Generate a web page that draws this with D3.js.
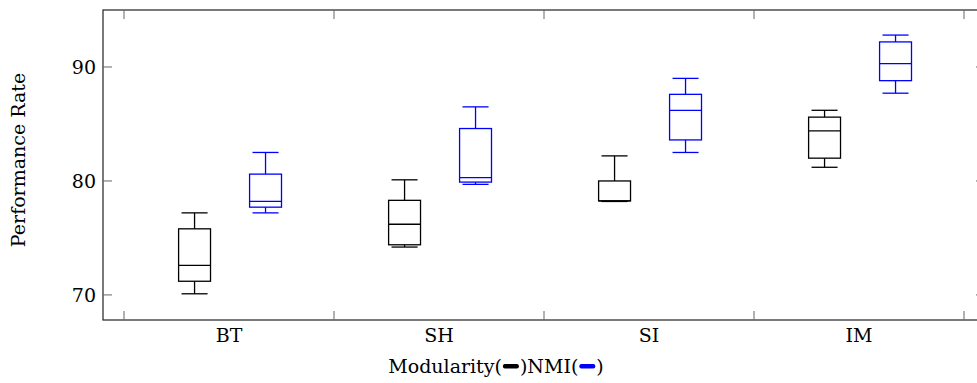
<!DOCTYPE html>
<html>
<head>
<meta charset="utf-8">
<script src="https://d3js.org/d3.v7.min.js"></script>
<style>
  body { margin: 0; background: #fff; }
  text { font-family: "DejaVu Serif", serif; fill: #000; }
</style>
</head>
<body>
<svg id="chart" width="977" height="383"></svg>
<script>
// categories and box stats [whiskerLow, q1, median, q3, whiskerHigh]
const categories = ["BT", "SH", "SI", "IM"];
const modularityStats = [
  [70.1, 71.2, 72.6, 75.8, 77.2],
  [74.2, 74.4, 76.2, 78.3, 80.1],
  [78.2, 78.25, 78.25, 80.0, 82.2],
  [81.2, 82.0, 84.4, 85.6, 86.2]
];
const nmiStats = [
  [77.2, 77.7, 78.2, 80.6, 82.5],
  [79.7, 79.9, 80.3, 84.6, 86.5],
  [82.5, 83.6, 86.2, 87.6, 89.0],
  [87.7, 88.8, 90.3, 92.2, 92.8]
];
const yTicks = [70, 80, 90];
const xTicks = [0.5, 1.5, 2.5, 3.5, 4.5];

const svg = d3.select("#chart");
const plotL = 103, plotR = 985, plotT = 10, plotB = 320;

const x = d3.scaleLinear().domain([0.4, 4.6]).range([plotL, plotR]);
const y = d3.scaleLinear().domain([67.8, 95]).range([plotB, plotT]);

const fontSize = 19;
const frameColor = "#222";

// frame
svg.append("rect")
  .attr("x", plotL).attr("y", plotT)
  .attr("width", plotR - plotL).attr("height", plotB - plotT)
  .attr("fill", "none").attr("stroke", frameColor).attr("stroke-width", 1.2);

// ticks
const tl = 9;
yTicks.forEach(t => {
  svg.append("line").attr("x1", plotL).attr("x2", plotL + tl)
    .attr("y1", y(t)).attr("y2", y(t)).attr("stroke", "#666");
  svg.append("line").attr("x1", plotR).attr("x2", plotR - tl)
    .attr("y1", y(t)).attr("y2", y(t)).attr("stroke", "#666");
  svg.append("text").attr("x", plotL - 7).attr("y", y(t) + 7)
    .attr("text-anchor", "end")
    .attr("font-size", fontSize).text(t);
});
xTicks.forEach(t => {
  svg.append("line").attr("x1", x(t)).attr("x2", x(t))
    .attr("y1", plotB).attr("y2", plotB - tl).attr("stroke", "#666");
  svg.append("line").attr("x1", x(t)).attr("x2", x(t))
    .attr("y1", plotT).attr("y2", plotT + tl).attr("stroke", "#666");
});
categories.forEach((c, i) => {
  svg.append("text").attr("x", x(i + 1)).attr("y", 342)
    .attr("text-anchor", "middle").attr("font-size", fontSize).text(c);
});

// boxes
const boxW = 0.152, capW = 0.124;
function drawBox(s, pos, color) {
  const g = svg.append("g").attr("stroke", color).attr("stroke-width", 1.3).attr("fill", "none");
  const [lo, q1, med, q3, hi] = s;
  g.append("rect")
    .attr("x", x(pos - boxW / 2)).attr("width", x(pos + boxW / 2) - x(pos - boxW / 2))
    .attr("y", y(q3)).attr("height", y(q1) - y(q3));
  g.append("line").attr("x1", x(pos - boxW / 2)).attr("x2", x(pos + boxW / 2))
    .attr("y1", y(med)).attr("y2", y(med));
  g.append("line").attr("x1", x(pos)).attr("x2", x(pos)).attr("y1", y(q3)).attr("y2", y(hi));
  g.append("line").attr("x1", x(pos)).attr("x2", x(pos)).attr("y1", y(q1)).attr("y2", y(lo));
  g.append("line").attr("x1", x(pos - capW / 2)).attr("x2", x(pos + capW / 2)).attr("y1", y(hi)).attr("y2", y(hi));
  g.append("line").attr("x1", x(pos - capW / 2)).attr("x2", x(pos + capW / 2)).attr("y1", y(lo)).attr("y2", y(lo));
}
categories.forEach((c, i) => {
  drawBox(modularityStats[i], i + 1 - 0.164, "#000");
  drawBox(nmiStats[i], i + 1 + 0.174, "#0000ff");
});

// y label
svg.append("text")
  .attr("transform", `translate(25,160) rotate(-90)`)
  .attr("text-anchor", "middle").attr("font-size", fontSize).text("Performance Rate");

// x label with legend swatches
const lab = svg.append("g");
const parts = ["Modularity(", null, ")NMI(", null, ")"];
const swatchColors = ["#000", "#0000ff"];
let cx = 0, si = 0;
const baseY = 373;
parts.forEach(p => {
  if (p === null) {
    lab.append("rect").attr("x", cx + 1).attr("y", baseY - 9).attr("width", 16).attr("height", 4.5)
      .attr("rx", 2).attr("fill", swatchColors[si++]);
    cx += 18;
  } else {
    const t = lab.append("text").attr("x", cx).attr("y", baseY).attr("font-size", fontSize).text(p);
    cx += t.node().getComputedTextLength();
  }
});
lab.attr("transform", `translate(${496 - cx / 2},0)`);
</script>
</body>
</html>
